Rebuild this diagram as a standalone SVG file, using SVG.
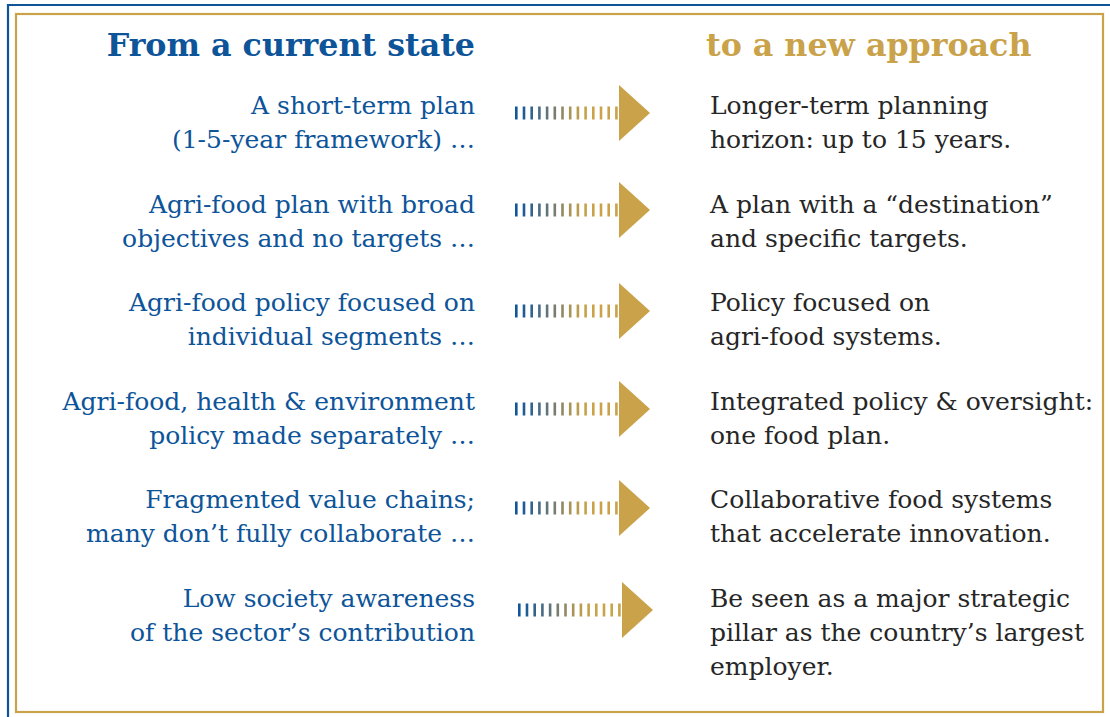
<svg xmlns="http://www.w3.org/2000/svg" width="1110" height="717" viewBox="0 0 1110 717">
<style>
.hdr{font-family:"DejaVu Serif","Liberation Serif",serif;font-weight:bold;font-size:31.7px}
.l{font-family:"DejaVu Serif","Liberation Serif",serif;font-size:25px;fill:#0d5499;text-anchor:end}
.r{font-family:"DejaVu Serif","Liberation Serif",serif;font-size:25px;fill:#262626}
.b{width:2.6px;height:13px}
</style>
<defs>
<g id="arrow">
<rect x="0" y="-6.5" width="2.6" height="13" fill="#0f569a"/>
<rect x="7.7" y="-6.5" width="2.6" height="13" fill="#1f5c94"/>
<rect x="15.4" y="-6.5" width="2.6" height="13" fill="#33638d"/>
<rect x="23.1" y="-6.5" width="2.6" height="13" fill="#486b85"/>
<rect x="30.8" y="-6.5" width="2.6" height="13" fill="#5f747b"/>
<rect x="38.5" y="-6.5" width="2.6" height="13" fill="#777e70"/>
<rect x="46.2" y="-6.5" width="2.6" height="13" fill="#908964"/>
<rect x="53.9" y="-6.5" width="2.6" height="13" fill="#a99457"/>
<rect x="61.6" y="-6.5" width="2.6" height="13" fill="#bb9c4f"/>
<rect x="69.3" y="-6.5" width="2.6" height="13" fill="#c6a14b"/>
<rect x="77" y="-6.5" width="2.6" height="13" fill="#c9a24a"/>
<rect x="84.7" y="-6.5" width="2.6" height="13" fill="#c9a24a"/>
<rect x="92.4" y="-6.5" width="2.6" height="13" fill="#c9a24a"/>
<rect x="100.1" y="-6.5" width="2.6" height="13" fill="#c9a24a"/>
<polygon points="104,-28 135,0 104,28" fill="#c9a24a"/>
</g>
</defs>
<rect width="1110" height="717" fill="#ffffff"/>
<g id="frame" fill="none">
<polyline points="8,717 8,5 1110,5" stroke="#0d5499" stroke-width="2.2"/>
<rect x="16" y="14" width="1087" height="698" stroke="#c9a24a" stroke-width="2.2"/>
</g>
<g id="headers">
<text class="hdr" x="475" y="56" text-anchor="end" fill="#0d5499">From a current state</text>
<text class="hdr" x="706" y="56" fill="#c9a24a">to a new approach</text>
</g>
<g id="connectors">
<use href="#arrow" x="515" y="113"/>
<use href="#arrow" x="515" y="210"/>
<use href="#arrow" x="515" y="311"/>
<use href="#arrow" x="515" y="409"/>
<use href="#arrow" x="515" y="508"/>
<use href="#arrow" x="518" y="610"/>
</g>
<g id="row1-from"><text class="l" x="475" y="114">A short-term plan</text><text class="l" x="475" y="148">(1-5-year framework) …</text></g>
<g id="row1-to"><text class="r" x="710" y="114">Longer-term planning</text><text class="r" x="710" y="148">horizon: up to 15 years.</text></g>
<g id="row2-from"><text class="l" x="475" y="213">Agri-food plan with broad</text><text class="l" x="475" y="247">objectives and no targets …</text></g>
<g id="row2-to"><text class="r" x="710" y="213">A plan with a “destination”</text><text class="r" x="710" y="247">and specific targets.</text></g>
<g id="row3-from"><text class="l" x="475" y="311">Agri-food policy focused on</text><text class="l" x="475" y="345">individual segments …</text></g>
<g id="row3-to"><text class="r" x="710" y="311">Policy focused on</text><text class="r" x="710" y="345">agri-food systems.</text></g>
<g id="row4-from"><text class="l" x="475" y="410">Agri-food, health &amp; environment</text><text class="l" x="475" y="444">policy made separately …</text></g>
<g id="row4-to"><text class="r" x="710" y="410">Integrated policy &amp; oversight:</text><text class="r" x="710" y="444">one food plan.</text></g>
<g id="row5-from"><text class="l" x="475" y="508">Fragmented value chains;</text><text class="l" x="475" y="542">many don’t fully collaborate …</text></g>
<g id="row5-to"><text class="r" x="710" y="508">Collaborative food systems</text><text class="r" x="710" y="542">that accelerate innovation.</text></g>
<g id="row6-from"><text class="l" x="475" y="607">Low society awareness</text><text class="l" x="475" y="641">of the sector’s contribution</text></g>
<g id="row6-to"><text class="r" x="710" y="607">Be seen as a major strategic</text><text class="r" x="710" y="641">pillar as the country’s largest</text><text class="r" x="710" y="675">employer.</text></g>
</svg>
